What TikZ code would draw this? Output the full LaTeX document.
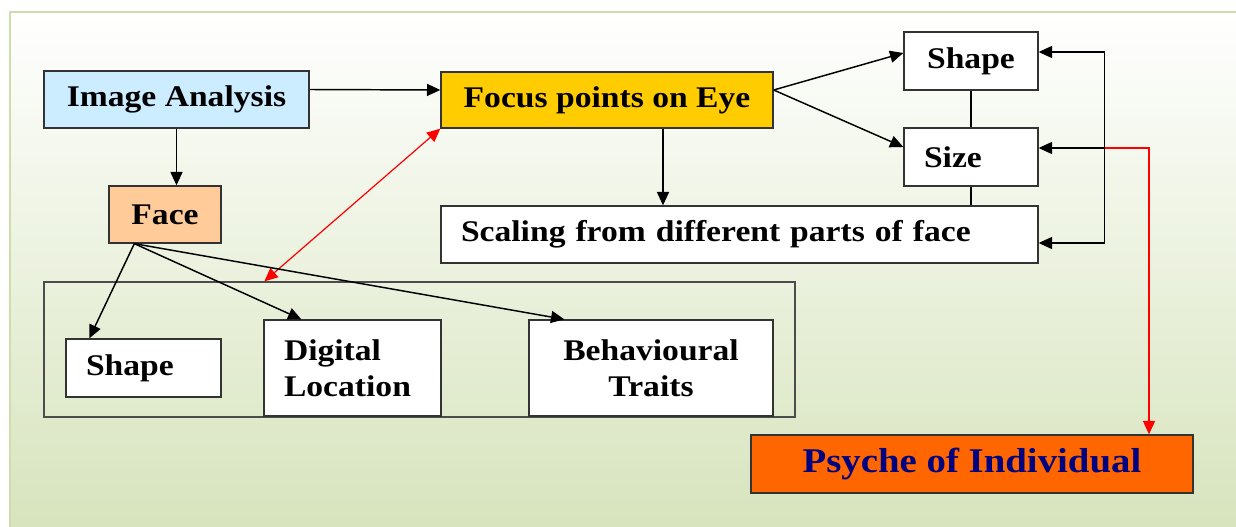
\documentclass[tikz,border=0pt]{standalone}
\usepackage{fontspec}
\setmainfont{Liberation Serif}[FakeStretch=1.12]
\usetikzlibrary{arrows.meta,calc}

\definecolor{anablue}{RGB}{204,236,255}
\definecolor{facepeach}{RGB}{255,204,153}
\definecolor{eyegold}{RGB}{255,204,0}
\definecolor{psycheorange}{RGB}{255,102,0}
\definecolor{psychenavy}{RGB}{0,0,128}
\definecolor{slidegreen}{RGB}{215,228,189}
\definecolor{slideedge}{RGB}{206,221,172}

\newcommand{\boxfont}{\fontsize{22.5}{27}\selectfont\bfseries}
\newcommand{\psychefont}{\fontsize{26}{31}\selectfont\bfseries}

\tikzset{
  box/.style={draw=black!80, line width=1pt, fill=white, inner sep=0pt, font=\boxfont},
  lbox/.style={box, align=left, inner xsep=15pt},
  arr/.style={-{Triangle[length=10pt,width=9pt]}, line width=1.1pt},
  redarr/.style={arr, draw=red, line width=0.9pt},
  reddbl/.style={{Triangle[length=10pt,width=9pt]}-{Triangle[length=10pt,width=9pt]}, draw=red, line width=0.9pt},
}

\begin{document}
\begin{tikzpicture}[x=0.75pt,y=0.75pt,yscale=-1,xscale=1]
        \useasboundingbox (0,0) rectangle (1236,527);
        
        %Shape: Slide background
        \fill[white] (0,0) rectangle (1236,527);
        \shade[top color=white, bottom color=slidegreen] (10,12) rectangle (1236,527);
        \draw[slideedge, line width=1.5pt] (10,527) -- (10,12) -- (1236,12);
        
        %Shape: Rectangle (group of face features)
        \node[draw=black!70, line width=1pt, minimum width=563.25pt, minimum height=101.25pt, inner sep=0pt] (group) at (419.5,349.5) {};
        
        % Text Node
        \node[box, fill=anablue, minimum width=198.75pt, minimum height=42.75pt] (ana) at (176.5,99.5) {Image Analysis};
        % Text Node
        \node[box, fill=facepeach, minimum width=84pt, minimum height=42.75pt] (face) at (165,214.5) {Face};
        % Text Node
        \node[box, fill=eyegold, minimum width=249pt, minimum height=42pt] (focus) at (607,100) {Focus points on Eye};
        % Text Node
        \node[box, minimum width=100.5pt, minimum height=43.5pt] (eyeshape) at (971,61) {Shape};
        % Text Node
        \node[lbox, text width=70.5pt, minimum height=43.5pt] (eyesize) at (971,157) {Size};
        % Text Node
        \node[lbox, text width=417.75pt, minimum height=42.75pt] (scaling) at (739.5,234.5) {Scaling from different parts of face};
        % Text Node
        \node[lbox, text width=86.25pt, minimum height=43.5pt] (faceshape) at (143.5,368) {Shape};
        % Text Node
        \node[lbox, text width=102.75pt, minimum height=72pt] (digital) at (352.5,368) {Digital\\Location};
        % Text Node
        \node[box, align=center, minimum width=183pt, minimum height=72pt] (traits) at (651,368) {Behavioural\\Traits};
        % Text Node
        \node[box, fill=psycheorange, text=psychenavy, font=\psychefont, minimum width=331.5pt, minimum height=43.5pt] (psyche) at (972,464) {Psyche of Individual};
        
        %Straight Lines
        \draw[arr] ($(ana.east)+(0,-10)$) -- ($(focus.west)+(0,-10)$);
        \draw[arr] (ana.south) -- (ana.south |- face.north);
        \draw[arr] ($(focus.east)+(0,-10)$) -- ($(eyeshape.west)+(0,-8)$);
        \draw[arr] ($(focus.east)+(0,-10)$) -- ($(eyesize.west)+(0,-10)$);
        \draw[arr] ($(focus.south)+(56,0)$) coordinate (fs) -- (fs |- scaling.north);
        \draw[line width=1pt] (eyeshape.south) -- (eyesize.north);
        \draw[line width=1pt] (eyesize.south) -- (eyesize.south |- scaling.north);
        
        %Straight Lines (feedback loop)
        \coordinate (looptop) at ($(eyeshape.east)+(66,-9)$);
        \coordinate (loopbot) at ($(scaling.east)+(66,8.5)$);
        \coordinate (sz) at ($(eyesize.east)+(0,-9)$);
        \draw[line width=1.1pt] (looptop) -- (loopbot);
        \draw[arr] (looptop) -- ($(eyeshape.east)+(0,-9)$);
        \draw[arr] (looptop |- sz) -- (sz);
        \draw[arr] (loopbot) -- ($(scaling.east)+(0,8.5)$);
        
        %Straight Lines (red)
        \draw[redarr] (looptop |- sz) -| ($(psyche.north)+(177,0)$);
        \draw[reddbl] (focus.south west) -- ($(group.north west)+(221,0)$);
        
        %Straight Lines (face features)
        \draw[arr] ($(face.south west)+(26,0)$) -- ($(faceshape.north west)+(24,0)$);
        \draw[arr] ($(face.south west)+(26,0)$) -- ($(digital.north west)+(38,0)$);
        \draw[arr] ($(face.south west)+(26,0)$) -- ($(traits.north west)+(36,0)$);
        
        \end{tikzpicture}
\end{document}
